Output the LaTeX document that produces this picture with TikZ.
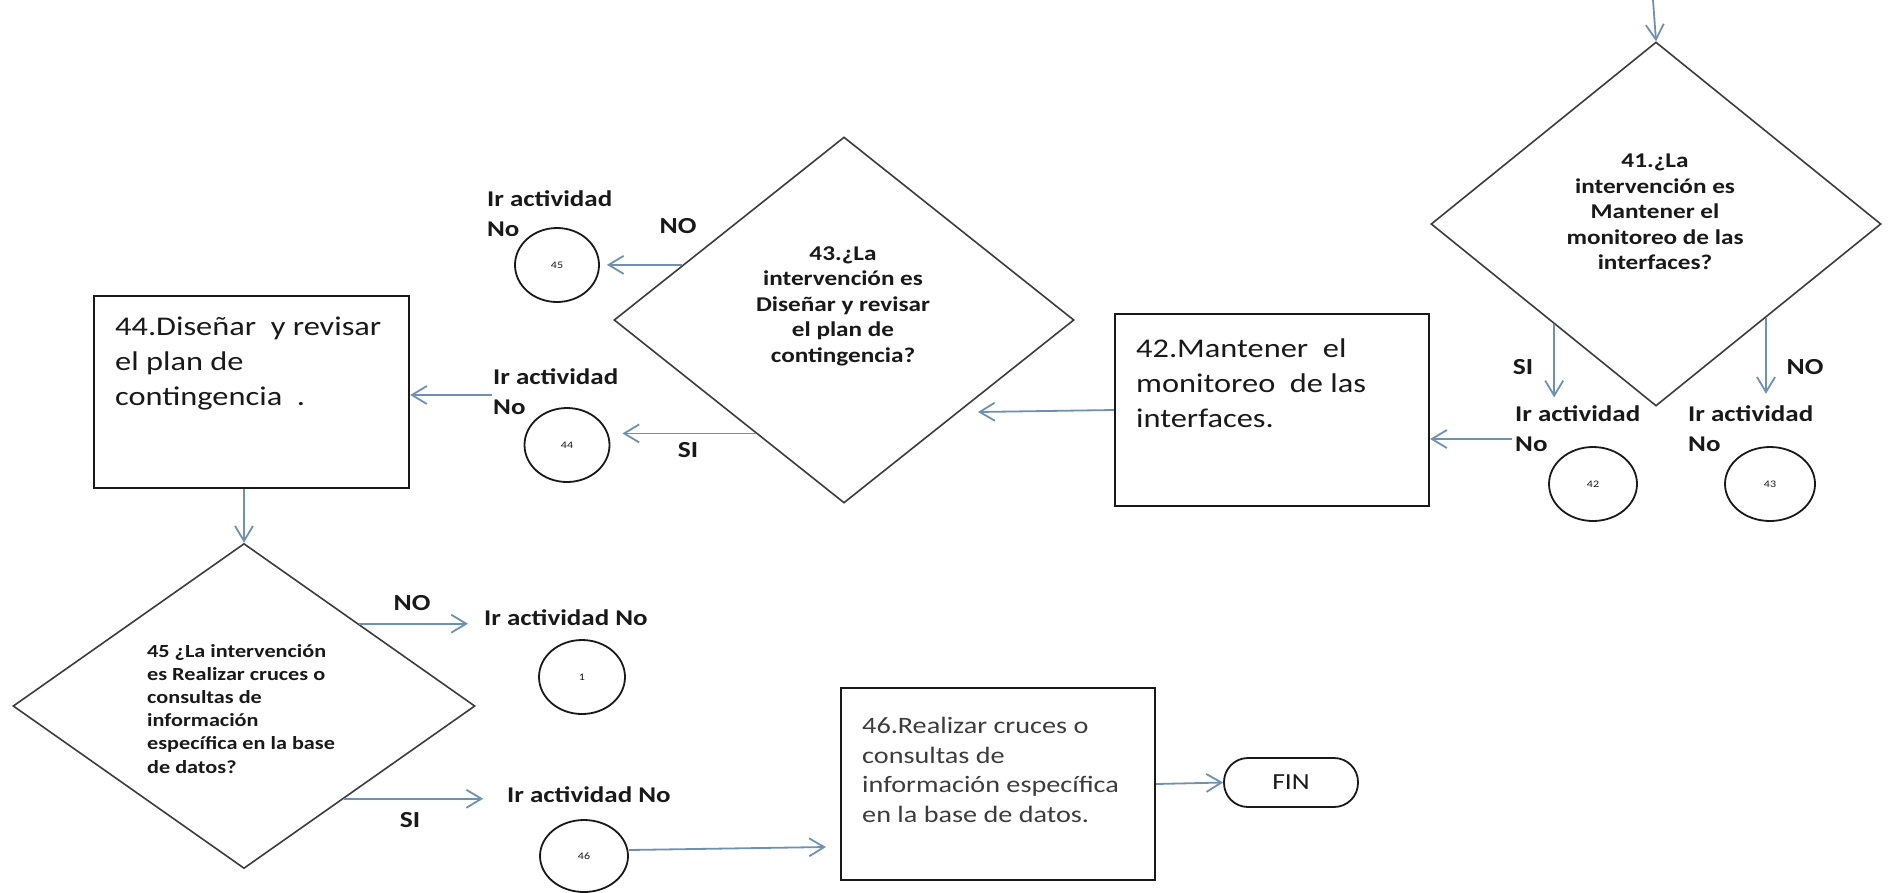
\documentclass[tikz,border=0pt]{standalone}
\usepackage{fontspec}
\newfontfamily\cf{Carlito}[FakeStretch=1.2]
\usetikzlibrary{shapes.geometric,arrows.meta,calc}
\definecolor{arrowblue}{RGB}{110,145,178}
\definecolor{ink}{RGB}{25,25,25}
\definecolor{grayink}{RGB}{60,60,60}
\begin{document}
\begin{tikzpicture}[x=1pt,y=-1pt,
  box/.style={draw=ink, line width=2.2pt, rectangle, inner sep=0pt},
  dec/.style={draw=grayink, line width=1.6pt, diamond, inner sep=0pt},
  circ/.style={draw=ink, line width=1.8pt, ellipse, inner sep=0pt, minimum width=86pt, minimum height=74pt, font=\cf\fontsize{10}{12}\selectfont, text=ink},
  arr/.style={draw=arrowblue, line width=1.8pt, -{Straight Barb[length=15pt,width=18pt]}},
  boxtxt/.style={font=\cf\fontsize{27}{35}\selectfont, align=left, inner sep=0pt, anchor=north west, text=ink},
  dtxt/.style={font=\cf\bfseries\fontsize{21}{25.5}\selectfont, align=center, inner sep=0pt, text=ink},
  lab/.style={font=\cf\bfseries\fontsize{22.5}{30}\selectfont, inner sep=0pt, anchor=base west, text=ink},
  yn/.style={font=\cf\bfseries\fontsize{23}{28}\selectfont, inner sep=0pt, text=ink},
]
\fill[white] (0,0) rectangle (1889,892);
\useasboundingbox (0,0) rectangle (1889,892);

% ---------- decision 41 ----------
\node[dec, minimum width=450pt, minimum height=364pt] (d41) at (1656,224) {};
\node[dtxt] (t41) at (1655,212) {41.¿La\\intervención es\\Mantener el\\monitoreo de las\\interfaces?};
\coordinate (top) at (1653,0);
\draw[arr] (top) -- (d41.north);
\coordinate (s41) at ($(d41.west)!0.549!(d41.south)$);
\coordinate (n41) at ($(d41.east)!0.513!(d41.south)$);
\draw[arr] (s41) -- ++(0,73);
\draw[arr] (n41) -- ++(0,76);
\node[yn] (si41) at (1523,367) {SI};
\node[yn] (no41) at (1805,367) {NO};
\node[lab] (l42a) at (1515,421) {Ir actividad};
\node[lab] (l42b) at (1515,451) {No};
\node[circ, minimum width=88pt, minimum height=74pt] (c42) at (1593,484) {42};
\node[lab] (l43a) at (1688,421) {Ir actividad};
\node[lab] (l43b) at (1688,451) {No};
\node[circ, minimum width=90pt, minimum height=74pt] (c43) at (1770,484) {43};

% ---------- box 42 ----------
\node[box, minimum width=314pt, minimum height=192pt] (B42) at (1272,410) {};
\node[boxtxt] (t42) at (1136,339) {42.Mantener\ \ el\\monitoreo\ \ de las\\interfaces.};
\coordinate (a42) at (1512,439);
\draw[arr] (a42) -- (a42 -| B42.east);

% ---------- decision 43 ----------
\node[dec, minimum width=460pt, minimum height=366pt] (d43) at (844,320) {};
\node[dtxt] (t43) at (843,306) {43.¿La\\intervención es\\Diseñar y revisar\\el plan de\\contingencia?};
\coordinate (e43) at (978,412);
\draw[arr] (B42.west) -- (e43);
\node[circ, minimum width=84pt] (c45) at (557,265) {45};
\node[circ, minimum width=85pt] (c44) at (567,445) {44};
\coordinate (n43) at ($(d43.west)!0.30!(d43.north)$);
\coordinate (s43) at ($(d43.west)!0.617!(d43.south)$);
\draw[arr, shorten >=7pt] (n43) -- (n43 -| c45.east);
\draw[arr, shorten >=12pt] (s43) -- (s43 -| c44.east);
\node[yn] (no43) at (678,226) {NO};
\node[yn] (si43) at (688,450) {SI};
\node[lab] (l45a) at (487,206) {Ir actividad};
\node[lab] (l45b) at (487,236) {No};
\node[lab] (l44a) at (493,384) {Ir actividad};
\node[lab] (l44b) at (493,414) {No};

% ---------- box 44 ----------
\node[box, minimum width=315pt, minimum height=192pt] (B44) at (251.5,392) {};
\node[boxtxt] (t44) at (115,317) {44.Diseñar\ \ y revisar\\el plan de\\contingencia\ \ .};
\coordinate (a44) at (492,395);
\draw[arr] (a44) -- (a44 -| B44.east);

% ---------- decision 45 ----------
\node[dec, minimum width=462pt, minimum height=325pt] (d45) at (244,706) {};
\node[font=\cf\bfseries\fontsize{18.5}{23.2}\selectfont, align=left, inner sep=0pt, anchor=north west, text=ink] (t45) at (147,644) {45 ¿La intervención\\es Realizar cruces o\\consultas de\\información\\específica en la base\\de datos?};
\draw[arr] (d45.north |- B44.south) -- (d45.north);
\coordinate (n45) at ($(d45.north)!0.496!(d45.east)$);
\coordinate (s45) at ($(d45.east)!0.568!(d45.south)$);
\draw[arr] (n45) -- ++(109,0);
\draw[arr] (s45) -- ++(139,0);
\node[yn] (no45) at (412,603) {NO};
\node[yn] (si45) at (410,820) {SI};
\node[lab] (l1) at (484,625) {Ir actividad No};
\node[lab] (l46) at (507,802) {Ir actividad No};
\node[circ] (c1) at (582,677) {1};
\node[circ, minimum width=88pt, minimum height=72pt] (c46) at (584,856) {46};

% ---------- box 46 and end ----------
\node[box, minimum width=314pt, minimum height=192pt] (B46) at (998,784) {};
\node[boxtxt, font=\cf\fontsize{23.5}{29.7}\selectfont, text=grayink] (t46) at (862,717) {46.Realizar cruces o\\consultas de\\información específica\\en la base de datos.};
\draw[arr] ($(c46.east)+(0,-6)$) -- ($(B46.west)+(-14,63)$);
\node[draw=ink, line width=1.8pt, rounded corners=24pt, minimum width=134pt, minimum height=49pt, inner sep=0pt, font=\cf\fontsize{23}{28}\selectfont, text=ink] (fin) at (1291,782.5) {FIN};
\draw[arr] (B46.east) -- (fin.west);
\end{tikzpicture}
\end{document}
